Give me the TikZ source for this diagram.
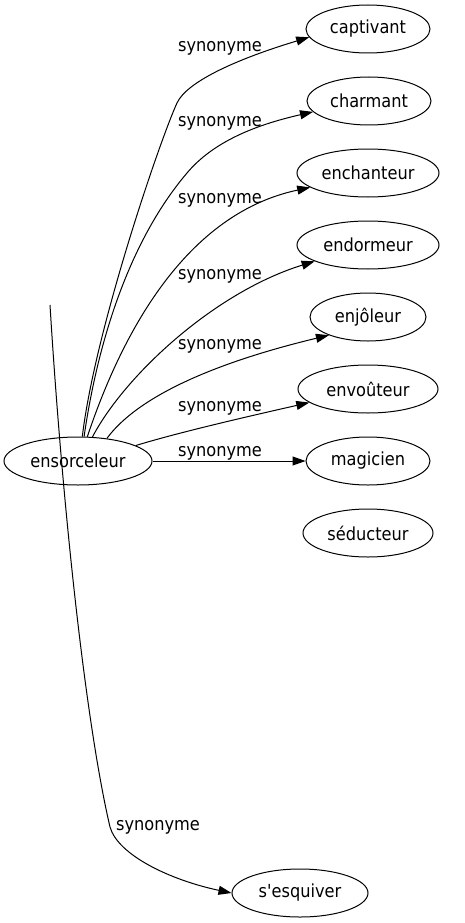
\documentclass[tikz,border=0pt]{standalone}
\usepackage{fontspec}
\setmainfont{DejaVu Sans Condensed}[Ligatures=TeXOff]
\usetikzlibrary{shapes.geometric,arrows.meta}
\tikzset{
  word/.style={ellipse,draw,line width=1pt,inner sep=0pt,minimum height=48pt,font=\fontsize{18}{22}\selectfont},
  lbl/.style={anchor=base,inner sep=0pt,font=\fontsize{18}{22}\selectfont},
  edge/.style={line width=1pt,-{Triangle[length=13pt,width=9pt]}}
}
\begin{document}
\begin{tikzpicture}[x=1pt,y=-1pt]
\useasboundingbox (0,0) rectangle (464,923);
\node[word,minimum width=148pt] (ens) at (78,461) {ensorceleur};
\node[word,minimum width=124pt] (cap) at (368,29) {captivant};
\node[word,minimum width=124pt] (cha) at (369,101) {charmant};
\node[word,minimum width=142pt] (enc) at (368,173) {enchanteur};
\node[word,minimum width=142pt] (endo) at (368,245) {endormeur};
\node[word,minimum width=116pt] (enj) at (368,317) {enjôleur};
\node[word,minimum width=140pt] (env) at (368,389) {envoûteur};
\node[word,minimum width=124pt] (mag) at (368,461) {magicien};
\node[word,minimum width=130pt] (sed) at (368,533) {séducteur};
\node[word,minimum width=136pt] (sesq) at (300,893) {s'esquiver};
\coordinate (e8s) at (50,305);

\draw[edge] (ens.80) .. controls (95,330) and (160,140) .. (177,103) .. controls (187,81) and (240,58) .. (cap.188);
\draw[edge] (ens.76) .. controls (98,340) and (130,240) .. (187,173) .. controls (213,142) and (255,125) .. (cha.191);
\draw[edge] (ens.69) .. controls (118,345) and (180,215) .. (enc.194);
\draw[edge] (ens.59) .. controls (125,375) and (215,292) .. (endo.197);
\draw[edge] (ens.38) .. controls (135,400) and (205,365) .. (enj.205);
\draw[edge] (ens.15) .. controls (180,432) and (250,416) .. (env.193);
\draw[edge] (ens.east) -- (mag.west);
\draw[edge] (e8s) .. controls (62,500) and (85,720) .. (110,827) .. controls (118,855) and (170,880) .. (sesq.west);

\node[lbl] (l1) at (220,52) {synonyme};
\node[lbl] (l2) at (220,127) {synonyme};
\node[lbl] (l3) at (220,203) {synonyme};
\node[lbl] (l4) at (220,279) {synonyme};
\node[lbl] (l5) at (220,349) {synonyme};
\node[lbl] (l6) at (220,411) {synonyme};
\node[lbl] (l7) at (220,456) {synonyme};
\node[lbl] (l8) at (158,830) {synonyme};
\end{tikzpicture}
\end{document}
